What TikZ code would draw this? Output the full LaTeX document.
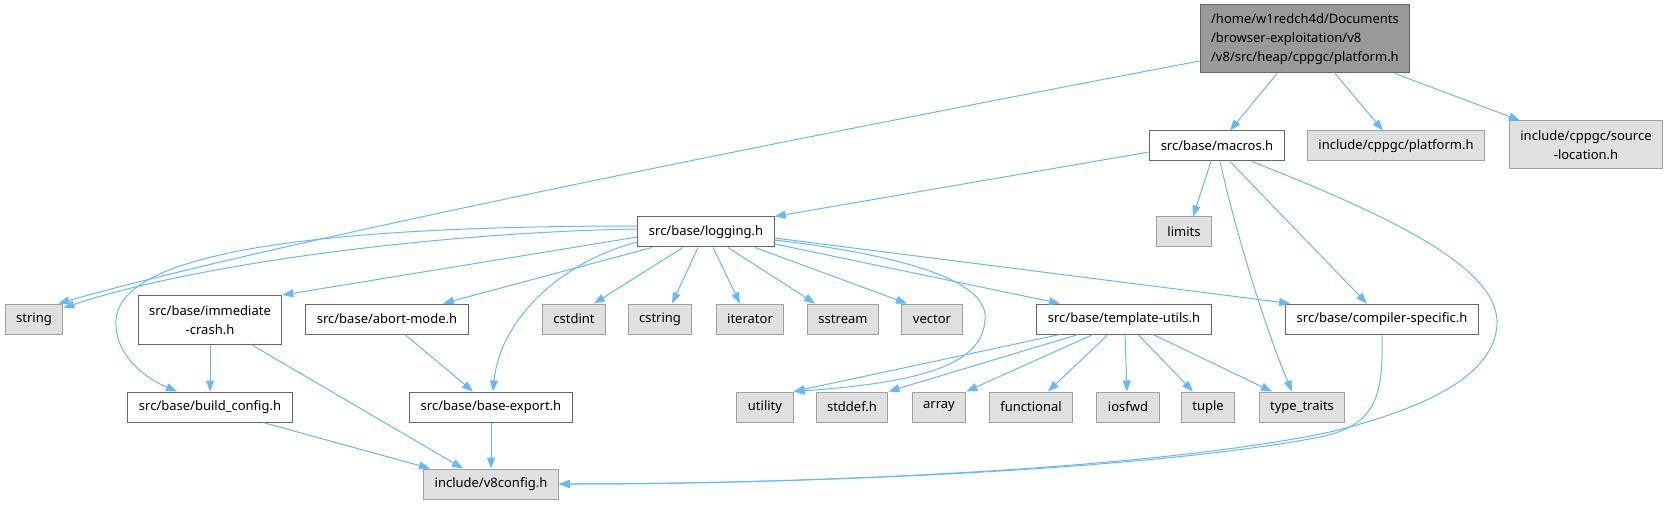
\documentclass[tikz,border=0pt]{standalone}
\usepackage{fontspec}
\setmainfont{Noto Sans}
\usetikzlibrary{arrows.meta,positioning}
\definecolor{link}{HTML}{63B8FF}
\definecolor{frame}{HTML}{666666}
\definecolor{sysframe}{HTML}{A0A0A0}
\definecolor{sysfill}{HTML}{E0E0E0}
\definecolor{mainfill}{HTML}{999999}
\tikzset{
  base/.style={font=\fontsize{13}{19}\selectfont,align=center,draw=frame,line width=1pt,fill=white,inner xsep=11pt,inner ysep=3pt,minimum height=30pt},
  mainfile/.style={base,fill=mainfill,align=left},
  srcfile/.style={base},
  sysfile/.style={base,fill=sysfill,draw=sysframe},
  flow/.style={-{Triangle[length=11pt,width=8pt]},line width=1pt,draw=link}
}
\begin{document}
\begin{tikzpicture}[x=1pt,y=-1pt]
\useasboundingbox (0,0) rectangle (1668,505);
% files
\node[mainfile,minimum height=68pt] (platform) at (1305,39) {/home/w1redch4d/Documents\\/browser-exploitation/v8\\/v8/src/heap/cppgc/platform.h};
\node[srcfile] (macros) at (1217,146) {src/base/macros.h};
\node[sysfile] (cppgcplat) at (1396,146) {include/cppgc/platform.h};
\node[sysfile,minimum height=48pt] (srcloc) at (1586,145) {include/cppgc/source\\-location.h};
\node[srcfile] (logging) at (706,232) {src/base/logging.h};
\node[sysfile] (limits) at (1184,232) {limits};
\node[sysfile] (string) at (34,319) {string};
\node[srcfile,minimum height=49pt] (imm) at (210,320) {src/base/immediate\\-crash.h};
\node[srcfile] (abort) at (387,319) {src/base/abort-mode.h};
\node[sysfile] (cstdint) at (574,319) {cstdint};
\node[sysfile] (cstring) at (660,319) {cstring};
\node[sysfile] (iterator) at (750,319) {iterator};
\node[sysfile] (sstream) at (843,319) {sstream};
\node[sysfile] (vector) at (932,319) {vector};
\node[srcfile] (tmpl) at (1124,319) {src/base/template-utils.h};
\node[srcfile] (compspec) at (1382,319) {src/base/compiler-specific.h};
\node[srcfile] (buildcfg) at (210,407) {src/base/build\_config.h};
\node[srcfile] (baseexp) at (491,407) {src/base/base-export.h};
\node[sysfile] (utility) at (765,407) {utility};
\node[sysfile] (stddef) at (852,407) {stddef.h};
\node[sysfile] (array) at (939,407) {array};
\node[sysfile] (functional) at (1031,407) {functional};
\node[sysfile] (iosfwd) at (1128,407) {iosfwd};
\node[sysfile] (tuple) at (1208,407) {tuple};
\node[sysfile] (typetr) at (1302,407) {type\_traits};
\node[sysfile] (v8config) at (491,484) {include/v8config.h};
% platform.h includes
\draw[flow] ([xshift=-28pt]platform.south) -- ([xshift=13pt]macros.north);
\draw[flow] ([xshift=30pt]platform.south) -- ([xshift=-13pt]cppgcplat.north);
\draw[flow] ([xshift=90pt]platform.south) -- ([xshift=-66pt]srcloc.north);
\draw[flow] ([yshift=-22pt]platform.west) .. controls (900,118) and (300,235) .. ([xshift=-5pt]string.north east);
% macros.h includes
\draw[flow] ([yshift=-6pt]macros.west) -- (logging.north east);
\draw[flow] ([xshift=-6pt]macros.south) -- ([xshift=9pt]limits.north);
\draw[flow] ([xshift=3pt]macros.south) .. controls (1240,250) and (1270,340) .. ([xshift=-10pt]typetr.north);
\draw[flow] ([xshift=13pt]macros.south) -- ([xshift=-15pt]compspec.north);
\draw[flow] ([xshift=35pt]macros.south) .. controls (1400,220) and (1500,270) .. (1497,325) .. controls (1494,370) and (1440,405) .. (1330,432) .. controls (1150,470) and (800,484) .. (v8config.east);
% logging.h includes
\draw[flow] ([yshift=3pt]logging.west) .. controls (450,232) and (200,262) .. ([yshift=11pt]string.east);
\draw[flow] ([yshift=6pt]logging.west) .. controls (300,226) and (120,255) .. (116,320) .. controls (114,355) and (145,378) .. ([xshift=-33pt]buildcfg.north);
\draw[flow] ([yshift=-5pt]logging.west) -- (imm.north east);
\draw[flow] ([xshift=-54pt]logging.south) -- ([xshift=56pt]abort.north);
\draw[flow] ([yshift=-10pt]logging.west) .. controls (560,262) and (500,320) .. ([xshift=2pt]baseexp.north);
\draw[flow] ([xshift=-23pt]logging.south) -- ([xshift=20pt]cstdint.north);
\draw[flow] ([xshift=-8pt]logging.south) -- ([xshift=12pt]cstring.north);
\draw[flow] ([xshift=7pt]logging.south) -- ([xshift=-10pt]iterator.north);
\draw[flow] ([xshift=22pt]logging.south) -- ([xshift=-28pt]sstream.north);
\draw[flow] ([xshift=49pt]logging.south) -- ([xshift=-25pt]vector.north);
\draw[flow] ([yshift=-12pt]logging.east) -- ([xshift=-64pt]tmpl.north);
\draw[flow] ([yshift=-6pt]logging.east) -- ([xshift=5pt]compspec.north west);
\draw[flow] ([yshift=-8pt]logging.east) .. controls (900,255) and (990,280) .. (985,320) .. controls (982,362) and (930,382) .. (utility.north east);
% template-utils.h includes
\draw[flow] ([xshift=-64pt]tmpl.south) -- (utility.north east);
\draw[flow] ([xshift=-46pt]tmpl.south) -- (stddef.north east);
\draw[flow] ([xshift=-31pt]tmpl.south) -- (array.north east);
\draw[flow] ([xshift=-16pt]tmpl.south) -- ([xshift=17pt]functional.north);
\draw[flow] ([xshift=1pt]tmpl.south) -- ([xshift=-1pt]iosfwd.north);
\draw[flow] ([xshift=14pt]tmpl.south) -- ([xshift=-15pt]tuple.north);
\draw[flow] ([xshift=29pt]tmpl.south) -- ([xshift=-30pt]typetr.north);
% compiler-specific.h and the lower left
\draw[flow] (compspec.south) .. controls (1383,390) and (1380,425) .. (1320,437) .. controls (1150,470) and (800,484) .. (v8config.east);
\draw[flow] (imm) -- (buildcfg);
\draw[flow] ([xshift=42pt]imm.south) -- ([xshift=-28pt]v8config.north);
\draw[flow] ([xshift=18pt]abort.south) -- ([xshift=-18pt]baseexp.north);
\draw[flow] ([xshift=53pt]buildcfg.south) -- ([xshift=7pt]v8config.north west);
\draw[flow] (baseexp) -- (v8config);
\end{tikzpicture}
\end{document}
